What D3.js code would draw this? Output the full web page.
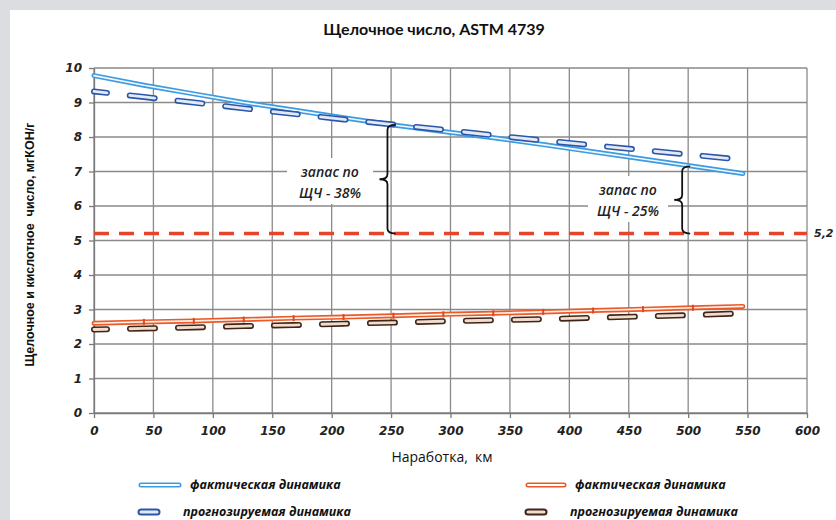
<!DOCTYPE html>
<html>
<head>
<meta charset="utf-8">
<script src="https://cdn.jsdelivr.net/npm/d3@7"></script>
<style>
  body { margin: 0; background: #dcdde0; }
  svg { display: block; }
  text { white-space: pre; }
</style>
</head>
<body>
<div id="container"></div>
<script>
/* CONSTANTS AND GLOBALS */
const width = 836;
const height = 520;
const margin = { top: 68, right: 29, bottom: 107, left: 94 };

/* DATA */
const km = [0, 42, 84, 126, 168, 210, 252, 294, 336, 378, 420, 462, 504, 546];
const blueActual = [9.78, 9.50, 9.25, 9.00, 8.78, 8.56, 8.35, 8.16, 7.98, 7.78, 7.57, 7.36, 7.15, 6.94];
const blueForecast = [9.32, 9.16, 9.00, 8.83, 8.67, 8.51, 8.36, 8.21, 8.05, 7.90, 7.76, 7.62, 7.48, 7.34];
const orangeActual = [2.60, 2.64, 2.67, 2.71, 2.75, 2.78, 2.82, 2.86, 2.89, 2.93, 2.97, 3.01, 3.05, 3.09];
const brownForecast = [2.42, 2.45, 2.48, 2.52, 2.55, 2.59, 2.62, 2.66, 2.69, 2.72, 2.76, 2.80, 2.84, 2.89];
const limit = 5.2;
const xTicks = [0, 50, 100, 150, 200, 250, 300, 350, 400, 450, 500, 550, 600];
const yTicks = [0, 1, 2, 3, 4, 5, 6, 7, 8, 9, 10];
const legendLabels = ["фактическая динамика", "прогнозируемая динамика"];

/* SCALES */
const xScale = d3.scaleLinear()
  .domain([0, 600])
  .range([margin.left, width - margin.right]);

const yScale = d3.scaleLinear()
  .domain([0, 10])
  .range([height - margin.bottom, margin.top]);

/* HTML ELEMENTS */
const svg = d3.select("#container")
  .append("svg")
  .attr("width", width)
  .attr("height", height);

// grey frame + white panel
svg.append("rect").attr("width", width).attr("height", height).attr("fill", "#dcdde0");
svg.append("rect").attr("x", 10).attr("y", 10).attr("width", width - 10).attr("height", height - 10).attr("fill", "#ffffff");

// title
svg.append("text")
  .attr("x", 434).attr("y", 35)
  .attr("text-anchor", "middle")
  .style("font-family", "Lato, 'Open Sans', sans-serif")
  .style("font-weight", "bold")
  .style("font-size", "16px")
  .attr("fill", "#111")
  .text("Щелочное число, ASTM 4739");

// grid
const grid = svg.append("g");
grid.selectAll("line.v")
  .data(xTicks)
  .join("line")
  .attr("class", "v")
  .attr("x1", d => xScale(d)).attr("x2", d => xScale(d))
  .attr("y1", yScale(10)).attr("y2", yScale(0))
  .attr("stroke", "#8a8a8a").attr("stroke-width", 1.3);
grid.selectAll("line.h")
  .data(yTicks)
  .join("line")
  .attr("class", "h")
  .attr("x1", xScale(0)).attr("x2", xScale(600))
  .attr("y1", d => yScale(d)).attr("y2", d => yScale(d))
  .attr("stroke", "#8a8a8a").attr("stroke-width", 1.3);

// axes
const tickFont = g => g.selectAll("text")
  .style("font-family", "'DejaVu Sans', sans-serif")
  .style("font-weight", "bold")
  .style("font-style", "italic")
  .style("font-size", "12px")
  .attr("fill", "#222");

svg.append("g")
  .attr("transform", `translate(0,${yScale(0)})`)
  .call(d3.axisBottom(xScale).tickValues(xTicks).tickSize(5).tickPadding(8).tickSizeOuter(0))
  .call(g => g.select(".domain").attr("stroke", "#7a7a7a").attr("stroke-width", 1.3))
  .call(g => g.selectAll(".tick line").attr("stroke", "#7a7a7a").attr("stroke-width", 1.3))
  .call(tickFont);

svg.append("g")
  .attr("transform", `translate(${xScale(0)},0)`)
  .call(d3.axisLeft(yScale).tickValues(yTicks).tickSize(5).tickPadding(7).tickSizeOuter(0))
  .call(g => g.select(".domain").attr("stroke", "#7a7a7a").attr("stroke-width", 1.3))
  .call(g => g.selectAll(".tick line").attr("stroke", "#7a7a7a").attr("stroke-width", 1.3))
  .call(tickFont);

// axis titles
svg.append("text")
  .attr("x", 442).attr("y", 462)
  .attr("text-anchor", "middle")
  .style("font-family", "'Open Sans', sans-serif")
  .style("font-size", "14px")
  .attr("fill", "#111")
  .text("Наработка,  км");

svg.append("text")
  .attr("transform", `translate(34,${(yScale(0) + yScale(10)) / 2 + 4}) rotate(-90)`)
  .attr("text-anchor", "middle")
  .style("font-family", "'Liberation Sans', Arial, sans-serif")
  .style("font-weight", "bold")
  .style("font-size", "12.5px")
  .attr("fill", "#111")
  .text("Щелочное и кислотное  число, мгКОН/г");

// annotation boxes (white behind text, hides grid)
const notes = [
  { x: 252, top: blueActual[6], cx: 330, lines: ["запас по", "ЩЧ - 38%"], box: [287, 158, 86, 46] },
  { x: 500, top: 7.15, cx: 628, lines: ["запас по", "ЩЧ - 25%"], box: [588, 176, 80, 46] }
];
notes.forEach(n => {
  svg.append("rect")
    .attr("x", n.box[0]).attr("y", n.box[1])
    .attr("width", n.box[2]).attr("height", n.box[3])
    .attr("fill", "#fff");
});

// limit line 5.2
svg.append("line")
  .attr("x1", xScale(0)).attr("x2", xScale(600))
  .attr("y1", yScale(limit)).attr("y2", yScale(limit))
  .attr("stroke", "#e8442a").attr("stroke-width", 3.5)
  .attr("stroke-dasharray", "15,10");

svg.append("text")
  .attr("x", 814).attr("y", yScale(limit) + 3)
  .style("font-family", "'DejaVu Sans', sans-serif")
  .style("font-weight", "bold")
  .style("font-style", "italic")
  .style("font-size", "11px")
  .attr("fill", "#222")
  .text("5,2");

// lines
const line = d3.line()
  .x(d => xScale(d[0]))
  .y(d => yScale(d[1]));

function doubleLine(values, outer, inner, w, iw, dash, offset) {
  const pts = km.map((k, i) => [k, values[i]]);
  const g = svg.append("g");
  [[outer, w], [inner, iw]].forEach(([c, sw]) => {
    g.append("path")
      .datum(pts)
      .attr("d", line)
      .attr("fill", "none")
      .attr("stroke", c)
      .attr("stroke-width", sw)
      .attr("stroke-linecap", "round")
      .attr("stroke-linejoin", "round")
      .attr("stroke-dasharray", dash || null)
      .attr("stroke-dashoffset", offset || 0);
  });
  return pts;
}

doubleLine(orangeActual, "#ea5a28", "#fff1ea", 5, 1.6);
const orangePts = km.map((k, i) => [k, orangeActual[i]]);
svg.append("g").selectAll("rect")
  .data(orangePts.slice(1, -1))
  .join("rect")
  .attr("x", d => xScale(d[0]) - 1).attr("y", d => yScale(d[1]) - 3)
  .attr("width", 2).attr("height", 6)
  .attr("fill", "#e4461e");
doubleLine(brownForecast, "#3f2418", "#f1dccd", 6, 2.8, "25,23", 12);

doubleLine(blueActual, "#3d9be0", "#f2f9fe", 5, 1.6);
doubleLine(blueForecast, "#2b56a8", "#e2eaf7", 6, 2.8, "25,23", 12);

// braces
function brace(x, yTop, yBot, tipX) {
  const xb = xScale(x), y1 = yScale(yTop), y2 = yScale(yBot);
  const ym = (y1 + y2) / 2, xl = xb - 6, r = 5;
  const p = d3.path();
  p.moveTo(xb + 2, y1);
  p.quadraticCurveTo(xl, y1, xl, y1 + r);
  p.lineTo(xl, ym - 5);
  p.quadraticCurveTo(xl, ym, tipX, ym);
  p.quadraticCurveTo(xl, ym, xl, ym + 5);
  p.lineTo(xl, y2 - r);
  p.quadraticCurveTo(xl, y2, xb + 2, y2);
  svg.append("path")
    .attr("d", p.toString())
    .attr("fill", "none")
    .attr("stroke", "#111")
    .attr("stroke-width", 1.8);
}

notes.forEach(n => {
  brace(n.x, n.top, limit, xScale(n.x) - 14);
  n.lines.forEach((t, i) => {
    svg.append("text")
      .attr("x", n.cx).attr("y", n.box[1] + 19 + i * 21)
      .attr("text-anchor", "middle")
      .style("font-family", "'Open Sans', sans-serif")
      .style("font-style", "italic")
      .style("font-weight", "600")
      .style("font-size", "14px")
      .attr("fill", "#222")
      .text(t);
  });
});

// legend
const legendItems = [
  { x: 138, y: 485, len: 44, outer: "#3d9be0", inner: "#ffffff", w: 5, iw: 1.8, tx: 190, label: legendLabels[0] },
  { x: 138, y: 512, len: 22, outer: "#2b56a8", inner: "#e2eaf7", w: 7, iw: 3, tx: 183, label: legendLabels[1] },
  { x: 525, y: 485, len: 42, outer: "#ea5a28", inner: "#ffffff", w: 5, iw: 1.8, tx: 575, label: legendLabels[0] },
  { x: 525, y: 512, len: 22, outer: "#3f2418", inner: "#f1dccd", w: 7, iw: 3, tx: 570, label: legendLabels[1] }
];
const leg = svg.append("g");
legendItems.forEach(d => {
  [[d.outer, d.w], [d.inner, d.iw]].forEach(([c, sw]) => {
    leg.append("line")
      .attr("x1", d.x + 3).attr("x2", d.x + d.len - 3)
      .attr("y1", d.y).attr("y2", d.y)
      .attr("stroke", c).attr("stroke-width", sw)
      .attr("stroke-linecap", "round");
  });
  leg.append("text")
    .attr("x", d.tx).attr("y", d.y + 4)
    .style("font-family", "'Open Sans', sans-serif")
    .style("font-style", "italic")
    .style("font-weight", "bold")
    .style("font-size", "12.5px")
    .attr("fill", "#111")
    .text(d.label);
});
</script>
</body>
</html>
